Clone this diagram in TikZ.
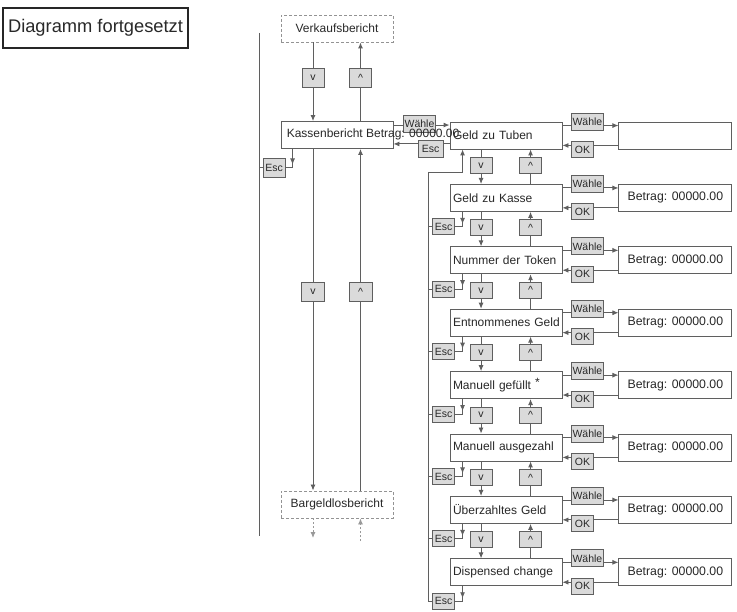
\documentclass[tikz,border=0pt]{standalone}
\usepackage{fontspec}
\setmainfont{Liberation Sans}
\usetikzlibrary{arrows.meta, positioning, calc}
\definecolor{linecolor}{RGB}{95,95,95}
\definecolor{buttoncolor}{RGB}{218,218,218}
\definecolor{textcolor}{RGB}{40,40,40}

\begin{document}
\begin{tikzpicture}[
    x=1pt, y=-1pt,
    every node/.append style={text=textcolor},
    titlebox/.style={rectangle, draw=black!85, line width=1.3pt, minimum width=185pt, minimum height=40pt, font=\fontsize{18.3}{20}\selectfont},
    menu/.style={rectangle, draw=linecolor, line width=0.9pt, fill=white, minimum width=112pt, minimum height=27pt, text width=106pt, align=left, inner sep=3pt, font=\fontsize{12}{14}\selectfont},
    valbox/.style={rectangle, draw=linecolor, line width=0.9pt, fill=white, minimum width=113pt, minimum height=27pt, font=\fontsize{12.3}{14}\selectfont},
    report/.style={rectangle, draw=gray!85, line width=0.9pt, dash pattern=on 3pt off 2pt, minimum width=112pt, minimum height=27pt, font=\fontsize{12}{14}\selectfont},
    button/.style={rectangle, draw=linecolor, fill=buttoncolor, line width=0.9pt, minimum width=22pt, minimum height=16pt, inner sep=1.5pt, font=\fontsize{10.5}{12}\selectfont},
    tallbutton/.style={button, minimum height=19pt},
    link/.style={draw=linecolor, line width=0.9pt},
    arrow/.style={link, -{Latex[length=6pt,width=5pt]}},
    more/.style={arrow, draw=gray!80, dash pattern=on 2pt off 2pt}
]
    \useasboundingbox (0,0) rectangle (737,612);

    % Title
    \node[titlebox] (title) at (95.5,28) {Diagramm fortgesetzt};

    % Reports (left column)
    \node[report] (verkauf) at (337,28.5) {Verkaufsbericht};
    \node[menu] (kassenbericht) at (337,135) {};
    \node[report] (bargeld) at (337,504.5) {Bargeldlosbericht};

    \coordinate (leftrail) at (259,33);
    \coordinate (leftrailend) at (259,536);
    \draw[link] (leftrail) -- (leftrailend);

    \node[tallbutton] (downkassen) at (313,77.5) {v};
    \node[tallbutton] (upkassen) at (360.5,77.5) {\textasciicircum};
    \draw[link] (verkauf.south -| downkassen) -- (downkassen.north);
    \draw[arrow] (downkassen.south) -- (kassenbericht.north -| downkassen);
    \draw[link] (kassenbericht.north -| upkassen) -- (upkassen.south);
    \draw[arrow] (upkassen.north) -- (verkauf.south -| upkassen);

    \node[tallbutton, minimum width=23pt] (downbargeld) at (313,291.5) {v};
    \node[tallbutton, minimum width=23pt] (upbargeld) at (360.5,291.5) {\textasciicircum};
    \draw[link] (kassenbericht.south -| downbargeld) -- (downbargeld.north);
    \draw[arrow] (downbargeld.south) -- (bargeld.north -| downbargeld);
    \draw[link] (bargeld.north -| upbargeld) -- (upbargeld.south);
    \draw[arrow] (upbargeld.north) -- (kassenbericht.south -| upbargeld);

    \coordinate (moredown) at (313,538);
    \coordinate (moreup) at (360.5,541);
    \draw[more] (bargeld.south -| moredown) -- (moredown);
    \draw[more] (moreup) -- (bargeld.south -| moreup);

    \node[tallbutton] (esckassen) at (274,167.5) {Esc};
    \coordinate (dropkassen) at ($(kassenbericht.south west)+(12pt,0pt)$);
    \draw[link] (dropkassen) |- (esckassen.east);
    \draw[arrow] (dropkassen) -- ($(dropkassen |- esckassen.east)+(0pt,3pt)$);
    \draw[link] (esckassen.west) -- (esckassen.west -| leftrail);

    % Menu entries (right column)
    \node[menu] (tuben) at (506,135.5) {\mbox{Geld zu Tuben}};
    \node[menu, below=34.5pt of tuben] (kassegeld) {\mbox{Geld zu Kasse}};
    \node[menu, below=34.5pt of kassegeld] (token) {\mbox{Nummer der Token}};
    \node[menu, below=34.5pt of token] (entnommen) {\mbox{Entnommenes Geld}};
    \node[menu, below=34.5pt of entnommen] (gefuellt) {\mbox{Manuell gefüllt \raisebox{3pt}{*}}};
    \node[menu, below=34.5pt of gefuellt] (ausgezahlt) {\mbox{Manuell ausgezahl}};
    \node[menu, below=34.5pt of ausgezahlt] (ueberzahlt) {\mbox{Überzahltes Geld}};
    \node[menu, below=34.5pt of ueberzahlt] (dispensed) {\mbox{Dispensed change}};

    % Values
    \node[valbox, right=56pt of tuben] (valtuben) {};
    \node[valbox, right=56pt of kassegeld] (valkassegeld) {Betrag: 00000.00};
    \node[valbox, right=56pt of token] (valtoken) {Betrag: 00000.00};
    \node[valbox, right=56pt of entnommen] (valentnommen) {Betrag: 00000.00};
    \node[valbox, right=56pt of gefuellt] (valgefuellt) {Betrag: 00000.00};
    \node[valbox, right=56pt of ausgezahlt] (valausgezahlt) {Betrag: 00000.00};
    \node[valbox, right=56pt of ueberzahlt] (valueberzahlt) {Betrag: 00000.00};
    \node[valbox, right=56pt of dispensed] (valdispensed) {Betrag: 00000.00};

    % Kassenbericht <-> Geld zu Tuben
    \node[button, minimum height=17pt] (wahlekassen) at (419.5,123.5) {Wähle};
    \node[button, minimum width=25pt, minimum height=17pt] (esctuben) at (430.5,148.5) {Esc};
    \coordinate (kw) at ($(kassenbericht.north east)+(0pt,-4pt)$);
    \coordinate (ke) at ($(kassenbericht.south east)+(0pt,5pt)$);
    \draw[link] (kw) -- (kw -| wahlekassen.west);
    \draw[arrow] (kw -| wahlekassen.east) -- (kw -| tuben.west);
    \draw[link] (ke -| tuben.west) -- (ke -| esctuben.east);
    \draw[arrow] (ke -| esctuben.west) -- (ke);

    % Waehle / OK
    \foreach \m in {tuben, kassegeld, token, entnommen, gefuellt, ausgezahlt, ueberzahlt, dispensed} {
        \node[button, minimum height=17pt] (wahle\m) at ($(\m.north east)+(25pt,0pt)$) {Wähle};
        \node[button] (ok\m) at ($(\m.south east)+(20pt,0pt)$) {OK};
        \coordinate (wl\m) at ($(\m.north east)+(0pt,-4pt)$);
        \coordinate (ol\m) at ($(\m.south east)+(0pt,4pt)$);
        \draw[link] (wl\m) -- (wl\m -| wahle\m.west);
        \draw[arrow] (wl\m -| wahle\m.east) -- (wl\m -| val\m.west);
        \draw[link] (ol\m -| val\m.west) -- (ol\m -| ok\m.east);
        \draw[arrow] (ol\m -| ok\m.west) -- (ol\m);
    }

    % Up / down between entries
    \foreach \p/\m in {tuben/kassegeld, kassegeld/token, token/entnommen, entnommen/gefuellt, gefuellt/ausgezahlt, ausgezahlt/ueberzahlt, ueberzahlt/dispensed} {
        \node[button] (down\m) at ($(\p.south west)+(31.5pt,-16pt)$) {v};
        \node[button] (up\m) at ($(\p.south west)+(81pt,-16pt)$) {\textasciicircum};
        \draw[link] (\p.south -| down\m) -- (down\m.north);
        \draw[arrow] (down\m.south) -- (\m.north -| down\m);
        \draw[link] (\m.north -| up\m) -- (up\m.south);
        \draw[arrow] (up\m.north) -- (\p.south -| up\m);
    }

    % Esc rail back to Geld zu Tuben
    \coordinate (rail) at (428,172);
    \coordinate (railend) at (428,602);
    \coordinate (droptuben) at ($(tuben.south west)+(13pt,0pt)$);
    \draw[link] (rail) -- (railend);
    \draw[arrow] (rail) -| (droptuben);

    \foreach \m in {kassegeld, token, entnommen, gefuellt, ausgezahlt, ueberzahlt, dispensed} {
        \node[button] (esc\m) at ($(\m.south west)+(-6pt,-15pt)$) {Esc};
        \coordinate (drop\m) at ($(\m.south west)+(13pt,0pt)$);
        \draw[link] (drop\m) |- (esc\m.east);
        \draw[arrow] (drop\m) -- ($(drop\m |- esc\m.east)+(0pt,3pt)$);
        \draw[link] (esc\m.west) -- (esc\m.west -| rail);
    }

    % Kassenbericht text runs over its box
    \node[anchor=west, inner sep=3pt, font=\fontsize{12}{14}\selectfont] (kassentext) at ($(kassenbericht.west)+(3pt,0.5pt)$) {Kassenbericht Betrag: 00000.00};

\end{tikzpicture}
\end{document}
